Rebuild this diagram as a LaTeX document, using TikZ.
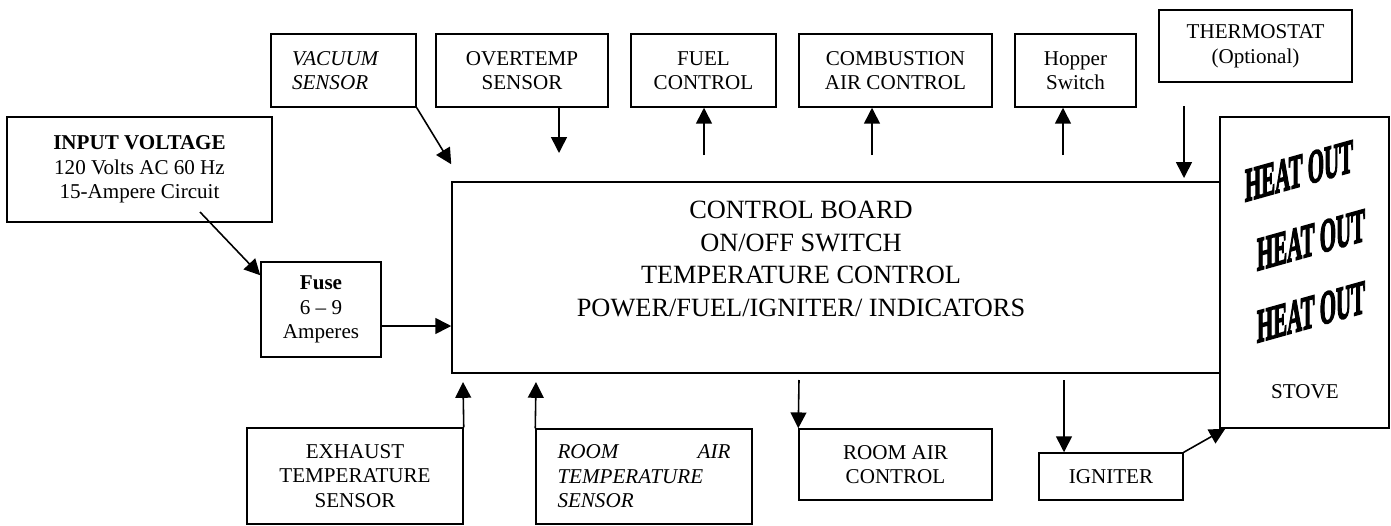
\documentclass[tikz,border=0pt]{standalone}
\usepackage{fontspec}
\setmainfont{Liberation Serif}
\newfontfamily\heatfont[FakeBold=4]{Liberation Serif}
\usetikzlibrary{arrows.meta}
\tikzset{
  box/.style={draw, line width=0.85pt, inner sep=0pt, align=center, fill=white,
    font=\fontsize{12}{14}\selectfont},
  arr/.style={-{Triangle[length=9pt,width=9pt]}, line width=0.9pt},
  heat/.style={font=\heatfont\bfseries\fontsize{27}{27}\selectfont, inner sep=0pt, yslant=0.28, xscale=0.44},
}
\begin{document}
\begin{tikzpicture}
\useasboundingbox (0,0) rectangle (27.82,-10.5);
% top row
\node[box, minimum width=2.9cm, minimum height=1.46cm, text width=2.06cm, align=left] (vac) at (6.87,-1.41) {\itshape VACUUM\\SENSOR};
\node[box, minimum width=3.44cm, minimum height=1.46cm] (over) at (10.44,-1.41) {OVERTEMP\\SENSOR};
\node[box, minimum width=2.9cm, minimum height=1.46cm] (fuel) at (14.07,-1.41) {FUEL\\CONTROL};
\node[box, minimum width=3.86cm, minimum height=1.46cm] (comb) at (17.91,-1.41) {COMBUSTION\\AIR CONTROL};
\node[box, minimum width=2.42cm, minimum height=1.46cm] (hop) at (21.51,-1.41) {Hopper\\Switch};
\node[box, minimum width=3.86cm, minimum height=1.44cm] (thermo) at (25.11,-0.92) {THERMOSTAT\\(Optional)};
% left
\node[box, minimum width=5.3cm, minimum height=2.1cm] (input) at (2.79,-3.39) {\textbf{INPUT VOLTAGE}\\120 Volts AC 60 Hz\\15-Ampere Circuit};
\node[box, minimum width=2.4cm, minimum height=1.9cm] (fuse) at (6.42,-6.19) {\textbf{Fuse}\\6 -- 9\\Amperes};
% board
\node[box, minimum width=15.36cm, minimum height=3.82cm] (board) at (16.72,-5.55) {};
\node[align=center, inner sep=0pt, font=\fontsize{15}{18.6}\selectfont] (boardtext) at (16.02,-5.18)
  {CONTROL BOARD\\ON/OFF SWITCH\\TEMPERATURE CONTROL\\POWER/FUEL/IGNITER/ INDICATORS};
% stove
\node[box, minimum width=3.38cm, minimum height=6.22cm] (stove) at (26.09,-5.45) {};
\node[heat] (h1) at (25.98,-3.42) {HEAT OUT};
\node[heat] (h2) at (26.22,-4.8) {HEAT OUT};
\node[heat] (h3) at (26.22,-6.24) {HEAT OUT};
\node[font=\fontsize{12}{14}\selectfont, inner sep=0pt] (stovelabel) at (26.1,-7.83) {STOVE};
% bottom row
\node[box, minimum width=4.32cm, minimum height=1.92cm] (exh) at (7.1,-9.52) {EXHAUST\\TEMPERATURE\\SENSOR};
\node[box, minimum width=4.32cm, minimum height=1.9cm, text width=3.46cm, align=left] (rs) at (12.88,-9.53)
  {\itshape\makebox[3.46cm][s]{ROOM\hfill AIR}\\TEMPERATURE\\SENSOR};
\node[box, minimum width=3.86cm, minimum height=1.42cm] (rc) at (17.91,-9.29) {ROOM AIR\\CONTROL};
\node[box, minimum width=2.88cm, minimum height=0.94cm] (ig) at (22.22,-9.53) {IGNITER};
% free ends
\coordinate (inT) at (4.0,-4.24);
\coordinate (ovT) at (11.18,-3.06);
\coordinate (fuT) at (14.08,-3.1);
\coordinate (cbT) at (17.44,-3.1);
\coordinate (hpT) at (21.26,-3.1);
\coordinate (thT) at (23.68,-2.12);
\coordinate (thH) at (23.68,-3.56);
\coordinate (exT) at (9.26,-7.64);
\coordinate (rsT) at (10.72,-7.64);
\coordinate (rcT) at (15.98,-7.6);
\coordinate (igT) at (21.28,-7.6);
% connectors
\draw[arr] (inT) -- ([yshift=-0.28cm]fuse.north west);
\draw[arr] (vac.south east) -- ([yshift=0.34cm]board.north west);
\draw[arr] (over.south -| ovT) -- (ovT);
\draw[arr] (fuT) -- (fuel.south -| fuT);
\draw[arr] (cbT) -- (comb.south -| cbT);
\draw[arr] (hpT) -- (hop.south -| hpT);
\draw[arr] (thT) -- (thH);
\draw[arr] ([yshift=-0.33cm]fuse.east) -- ([yshift=-0.33cm]fuse.east -| board.west);
\draw[arr] (exh.north east) -- (exT);
\draw[arr] (rs.north west) -- (rsT);
\draw[arr] (rcT) -- (rc.north west);
\draw[arr] (igT) -- (ig.north -| igT);
\draw[arr] (ig.north east) -- ([xshift=0.12cm]stove.south west);
\end{tikzpicture}
\end{document}
